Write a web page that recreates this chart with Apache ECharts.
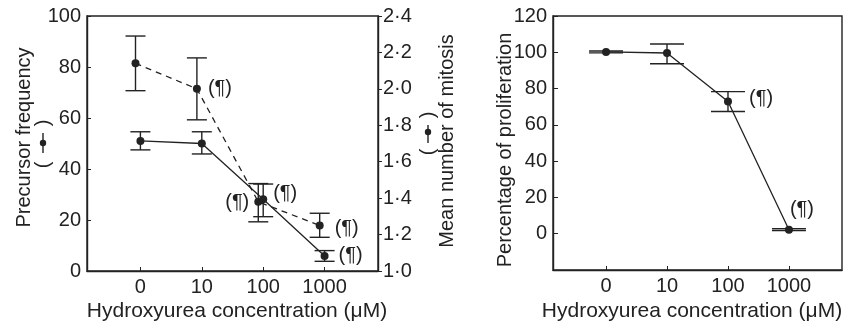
<!DOCTYPE html>
<html>
<head>
<meta charset="utf-8">
<script src="https://cdn.jsdelivr.net/npm/echarts@6/dist/echarts.min.js"></script>
<style>
  html, body { margin: 0; padding: 0; background: #fff; }
  #chart { width: 853px; height: 326px; }
</style>
</head>
<body>
<div id="chart"></div>
<script>
// dose axis (log scale positions 0..3)
var doseLabels = ['0', '10', '100', '1000'];
var doseX = [0, 1, 2, 3];

// left panel, solid line: precursor frequency (left axis)
var precursorFreq = [51, 50, 28.1, 5.9];
var precursorLow = [47.5, 45.9, 21.3, 3.8];
var precursorHigh = [54.6, 54.6, 34.1, 8];
var precursorSig = [false, false, true, true];

// left panel, dashed line: mean number of mitosis (right axis)
var mitosisMean = [2.14, 2.0, 1.38, 1.25];
var mitosisLow = [1.99, 1.83, 1.27, 1.185];
var mitosisHigh = [2.29, 2.17, 1.48, 1.317];
var mitosisSig = [false, true, true, true];

// right panel: percentage of proliferation
var prolifPct = [100.2, 99.6, 72.9, 2.2];
var prolifLow = [99.7, 93.7, 67.4, 1.7];
var prolifHigh = [100.7, 104.6, 78.3, 2.7];
var prolifSig = [false, false, true, true];

var ink = '#222';
var font = 'Liberation Sans, Arial, sans-serif';
var fs = 20;
var dashShift = -0.08;   // dashed series sits slightly left of the dose tick
var sigText = '(\u00b6)';

var chart = echarts.init(document.getElementById('chart'), null, {renderer: 'canvas'});

function errorBars(xs, lows, highs, capW, xIdx, yIdx) {
    return {
        type: 'custom',
        xAxisIndex: xIdx,
        yAxisIndex: yIdx,
        silent: true,
        z: 1,
        encode: {x: 0, y: [1, 2]},
        data: xs.map(function (x, i) { return [x, lows[i], highs[i]]; }),
        renderItem: function (params, api) {
            var lo = api.coord([api.value(0), api.value(1)]);
            var hi = api.coord([api.value(0), api.value(2)]);
            var h = capW / 2;
            var st = {stroke: ink, lineWidth: 1.4};
            return {
                type: 'group',
                children: [
                    {type: 'line', shape: {x1: lo[0], y1: lo[1], x2: hi[0], y2: hi[1]}, style: st},
                    {type: 'line', shape: {x1: lo[0] - h, y1: lo[1], x2: lo[0] + h, y2: lo[1]}, style: st},
                    {type: 'line', shape: {x1: hi[0] - h, y1: hi[1], x2: hi[0] + h, y2: hi[1]}, style: st}
                ]
            };
        }
    };
}

function lineData(xs, vals, sig, labelCfg, shift) {
    return xs.map(function (x, i) {
        var item = {value: [x + shift, vals[i]]};
        if (sig[i] && labelCfg[i]) {
            item.label = Object.assign({show: true, formatter: sigText, color: ink, fontSize: fs, fontFamily: font}, labelCfg[i]);
        }
        return item;
    });
}

var precursorLabels = [null, null,
    {position: 'right', distance: 6, offset: [0, -6]},
    {position: 'right', distance: 10, offset: [0, 0]}];
var mitosisLabels = [null,
    {position: 'right', distance: 7, offset: [0, 0]},
    {position: 'left', distance: 5, offset: [0, 1]},
    {position: 'right', distance: 11, offset: [0, 3]}];
var prolifLabels = [null, null,
    {position: 'right', distance: 17, offset: [0, -3]},
    {position: 'top', distance: 6, offset: [13, 0]}];

function doseAxis(gridIndex) {
    return {
        type: 'value',
        gridIndex: gridIndex,
        min: -0.87,
        max: 3.87,
        splitLine: {show: false},
        axisLine: {show: true, onZero: false, lineStyle: {color: ink, width: 1.4}},
        axisTick: {show: true, inside: true, length: 4, customValues: doseX, lineStyle: {color: ink}},
        axisLabel: {
            customValues: doseX, margin: 6, color: ink, fontSize: fs, fontFamily: font,
            formatter: function (v) { return doseLabels[Math.round(v)]; }
        }
    };
}

function vText(text, x, y) {
    return {
        type: 'text', x: x, y: y, rotation: Math.PI / 2, silent: true,
        style: {text: text, fill: ink, font: fs + 'px ' + font, align: 'center', verticalAlign: 'middle'}
    };
}

function hText(text, x, y) {
    return {
        type: 'text', x: x, y: y, silent: true,
        style: {text: text, fill: ink, font: '21px ' + font, align: 'center', verticalAlign: 'middle'}
    };
}

function legendMark(x, yTop, yBot, lineTop, lineBot, dotY) {
    return [
        vText(')', x, yTop),
        vText('(', x, yBot),
        {type: 'line', silent: true, shape: {x1: x, y1: lineTop, x2: x, y2: lineBot}, style: {stroke: ink, lineWidth: 1.4}},
        {type: 'circle', silent: true, shape: {cx: x, cy: dotY, r: 3.2}, style: {fill: ink}}
    ];
}

var option = {
    animation: false,
    backgroundColor: '#fff',
    textStyle: {fontFamily: font, color: ink},
    grid: [
        {left: 87, top: 16, width: 291, height: 255, show: true, borderColor: ink, borderWidth: 1.4},
        {left: 553, top: 16, width: 289, height: 254, show: true, borderColor: ink, borderWidth: 1.4}
    ],
    xAxis: [doseAxis(0), doseAxis(1)],
    yAxis: [
        {
            type: 'value', gridIndex: 0, min: 0, max: 100, interval: 20,
            splitLine: {show: false},
            axisLine: {show: true, onZero: false, lineStyle: {color: ink, width: 1.4}},
            axisTick: {inside: true, length: 4, lineStyle: {color: ink}},
            axisLabel: {margin: 6, color: ink, fontSize: fs, fontFamily: font}
        },
        {
            type: 'value', gridIndex: 0, position: 'right', min: 1.0, max: 2.4, interval: 0.2,
            splitLine: {show: false},
            axisLine: {show: true, onZero: false, lineStyle: {color: ink, width: 1.4}},
            axisTick: {inside: false, length: 4, lineStyle: {color: ink}},
            axisLabel: {
                margin: 5, color: ink, fontSize: fs, fontFamily: font,
                formatter: function (v) { return v.toFixed(1).replace('.', '\u00b7'); }
            }
        },
        {
            type: 'value', gridIndex: 1, min: -20, max: 120, interval: 20,
            splitLine: {show: false},
            axisLine: {show: true, onZero: false, lineStyle: {color: ink, width: 1.4}},
            axisTick: {inside: true, length: 5, lineStyle: {color: ink}},
            axisLabel: {
                margin: 6, color: ink, fontSize: fs, fontFamily: font,
                formatter: function (v) { return v < 0 ? '' : String(v); }
            }
        }
    ],
    graphic: [
        vText('Precursor frequency', 24, 137.5),
        vText('Mean number of mitosis', 447, 141),
        vText('Percentage of proliferation', 505, 150),
        hText('Hydroxyurea concentration (\u03bcM)', 237, 311),
        hText('Hydroxyurea concentration (\u03bcM)', 692, 311)
    ].concat(legendMark(43, 123, 165, 133, 153, 143))
     .concat(legendMark(428, 115, 152, 125, 143, 132)),
    series: [
        errorBars(doseX.map(function (x) { return x + dashShift; }), mitosisLow, mitosisHigh, 20, 0, 1),
        errorBars(doseX, precursorLow, precursorHigh, 20, 0, 0),
        errorBars(doseX, prolifLow, prolifHigh, 34, 1, 2),
        {
            name: 'Mean number of mitosis', type: 'line', xAxisIndex: 0, yAxisIndex: 1,
            symbol: 'circle', symbolSize: 8, z: 3,
            lineStyle: {color: ink, width: 1.3, type: [6, 5]},
            itemStyle: {color: ink},
            data: lineData(doseX, mitosisMean, mitosisSig, mitosisLabels, dashShift)
        },
        {
            name: 'Precursor frequency', type: 'line', xAxisIndex: 0, yAxisIndex: 0,
            symbol: 'circle', symbolSize: 8, z: 3,
            lineStyle: {color: ink, width: 1.3},
            itemStyle: {color: ink},
            data: lineData(doseX, precursorFreq, precursorSig, precursorLabels, 0)
        },
        {
            name: 'Percentage of proliferation', type: 'line', xAxisIndex: 1, yAxisIndex: 2,
            symbol: 'circle', symbolSize: 8, z: 3,
            lineStyle: {color: ink, width: 1.3},
            itemStyle: {color: ink},
            data: lineData(doseX, prolifPct, prolifSig, prolifLabels, 0)
        }
    ]
};

chart.setOption(option);
</script>
</body>
</html>
